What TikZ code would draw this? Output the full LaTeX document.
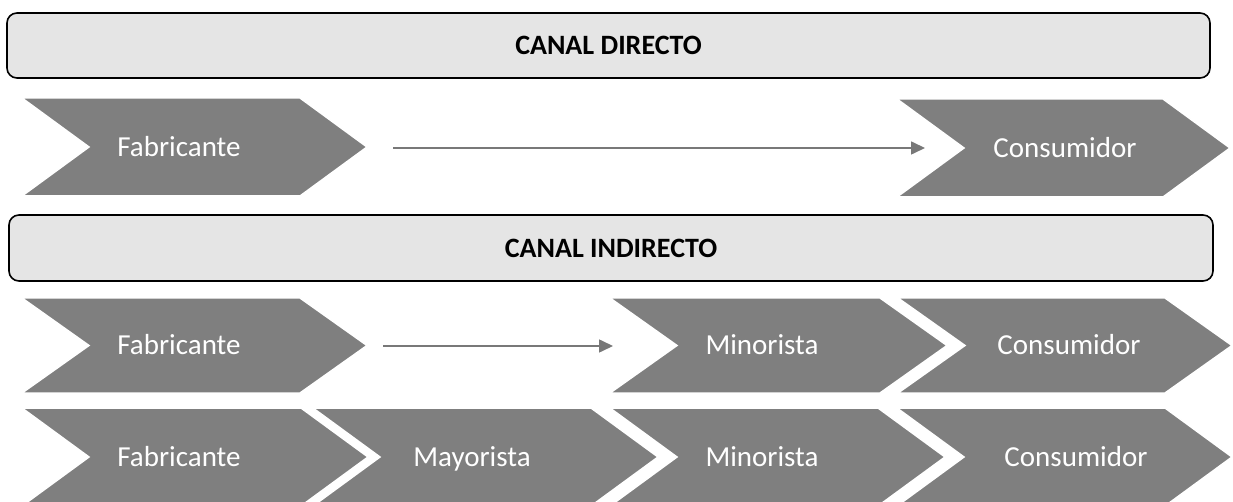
\documentclass[tikz,border=0pt]{standalone}
\usepackage{fontspec}
\setmainfont{Carlito}
\usetikzlibrary{arrows.meta}
\definecolor{chevgray}{RGB}{127,127,127}
\definecolor{headfill}{RGB}{229,229,229}
\definecolor{flowgray}{RGB}{120,120,120}
\tikzset{
  chev/.style={fill=chevgray, draw=white, line width=1.5pt, line join=miter},
  chevtext/.style={text=white, font=\fontsize{29pt}{32pt}\selectfont, inner sep=0pt,
    text height=18.5pt, text depth=0pt},
  headbox/.style={draw=black, line width=1.6pt, fill=headfill, rounded corners=10pt,
    font=\bfseries\fontsize{28pt}{30pt}\selectfont, inner sep=0pt},
  flow/.style={draw=flowgray, line width=1.6pt, -{Triangle[length=14pt,width=13pt]}}
}
% #1 left x, #2 tip x, #3 top y, #4 bottom y
\newcommand\mychevron[4]{%
  \path[chev] (#1,#3) -- ({#2-67},#3) -- (#2,{(#3+#4)/2}) -- ({#2-67},#4) -- (#1,#4) -- ({#1+67},{(#3+#4)/2}) -- cycle;
}
\begin{document}
\begin{tikzpicture}[x=1pt,y=-1pt]
\useasboundingbox (0,0) rectangle (1233,502);
\fill[white] (0,0) rectangle (1233,502);

% headings
\node[headbox, minimum width=1203pt, minimum height=65pt] (h1) at (608.5,45.5) {CANAL DIRECTO};
\node[headbox, minimum width=1204pt, minimum height=66pt] (h2) at (611,248) {CANAL INDIRECTO};

% row 1
\mychevron{22}{367}{98}{196}
\mychevron{897}{1230}{99}{197}
\node[chevtext] (f1) at (179,147) {Fabricante};
\node[chevtext] (c1) at (1065,148) {Consumidor};
\coordinate (a1s) at (393,148);
\coordinate (a1e) at (925,148);
\draw[flow] (a1s) -- (a1e);

% row 2
\mychevron{22}{367}{298}{393}
\mychevron{610}{947}{298}{393}
\mychevron{898}{1232}{298}{393}
\node[chevtext] (f2) at (179,345.5) {Fabricante};
\node[chevtext] (m2) at (762,345.5) {Minorista};
\node[chevtext] (c2) at (1069,345.5) {Consumidor};
\coordinate (a2s) at (383,346);
\coordinate (a2e) at (613,346);
\draw[flow] (a2s) -- (a2e);

% row 3
\mychevron{22}{368}{408}{506}
\mychevron{313}{658}{408}{506}
\mychevron{610}{945}{408}{506}
\mychevron{897}{1232}{408}{506}
\node[chevtext] (f3) at (179,457) {Fabricante};
\node[chevtext] (y3) at (472,457) {Mayorista};
\node[chevtext] (m3) at (762,457) {Minorista};
\node[chevtext] (c3) at (1076,457) {Consumidor};
\end{tikzpicture}
\end{document}
